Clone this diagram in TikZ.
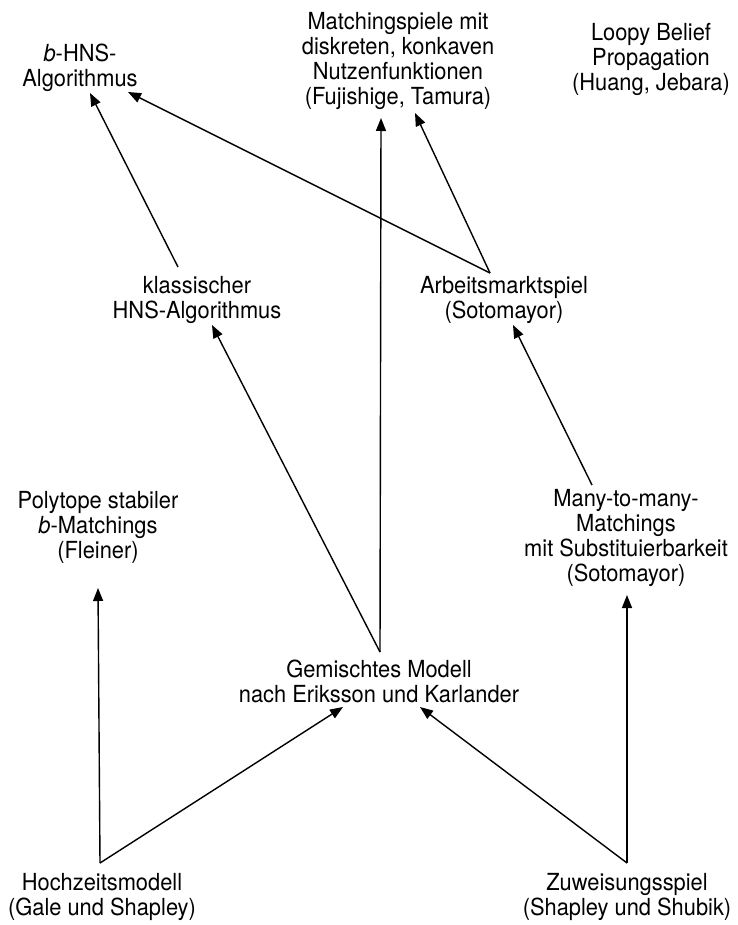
\documentclass[tikz,border=0pt]{standalone}
\usepackage{fontspec}
\setmainfont{TeX Gyre Heros}[FakeStretch=0.93]
\usepackage{tikz}
\usetikzlibrary{arrows.meta, positioning}

\begin{document}
\begin{tikzpicture}[
  x=1pt, y=-1pt,
  topic/.style={inner sep=0pt, align=center, font=\fontsize{23.5}{25}\selectfont},
  link/.style={line width=1.4pt, -{Triangle[length=13pt,width=10pt]}}
]
\useasboundingbox (0,0) rectangle (737,925);
\node[topic] (bhns)  at (80,68)   {\textit{b}-HNS-\\Algorithmus};
\node[topic] (match) at (398,61)  {Matchingspiele mit\\diskreten, konkaven\\Nutzenfunktionen\\(Fujishige, Tamura)};
\node[topic] (loopy) at (651,59)  {Loopy Belief\\Propagation\\(Huang, Jebara)};
\node[topic] (klass) at (197,300) {klassischer\\HNS-Algorithmus};
\node[topic] (arb)   at (504,300) {Arbeitsmarktspiel\\(Sotomayor)};
\node[topic] (poly)  at (98,527)  {Polytope stabiler\\\textit{b}-Matchings\\(Fleiner)};
\node[topic] (many)  at (626,538) {Many-to-many-\\Matchings\\mit Substituierbarkeit\\(Sotomayor)};
\node[topic] (gem)   at (379,681) {Gemischtes Modell\\nach Eriksson und Karlander};
\node[topic] (hoch)  at (102,897) {Hochzeitsmodell\\(Gale und Shapley)};
\node[topic] (zuw)   at (627,897) {Zuweisungsspiel\\(Shapley und Shubik)};

\draw[link] ([shift={(-2,-34)}]hoch.center) -- ([shift={(0,61)}]poly.center);
\draw[link] ([shift={(-2,-34)}]hoch.center) -- ([shift={(-36,26)}]gem.center);
\draw[link] ([shift={(0,-34)}]zuw.center) -- ([shift={(1,57)}]many.center);
\draw[link] ([shift={(0,-34)}]zuw.center) -- ([shift={(41,26)}]gem.center);
\draw[link] ([shift={(1,-29)}]gem.center) -- ([shift={(-17,57)}]match.center);
\draw[link] ([shift={(1,-29)}]gem.center) -- ([shift={(15,25)}]klass.center);
\draw[link] ([shift={(-19,-33)}]klass.center) -- ([shift={(10,25)}]bhns.center);
\draw[link] ([shift={(-34,-53)}]many.center) -- ([shift={(9,25)}]arb.center);
\draw[link] ([shift={(-14,-27)}]arb.center) -- ([shift={(48,24)}]bhns.center);
\draw[link] ([shift={(-14,-27)}]arb.center) -- ([shift={(17,52)}]match.center);
\end{tikzpicture}
\end{document}
